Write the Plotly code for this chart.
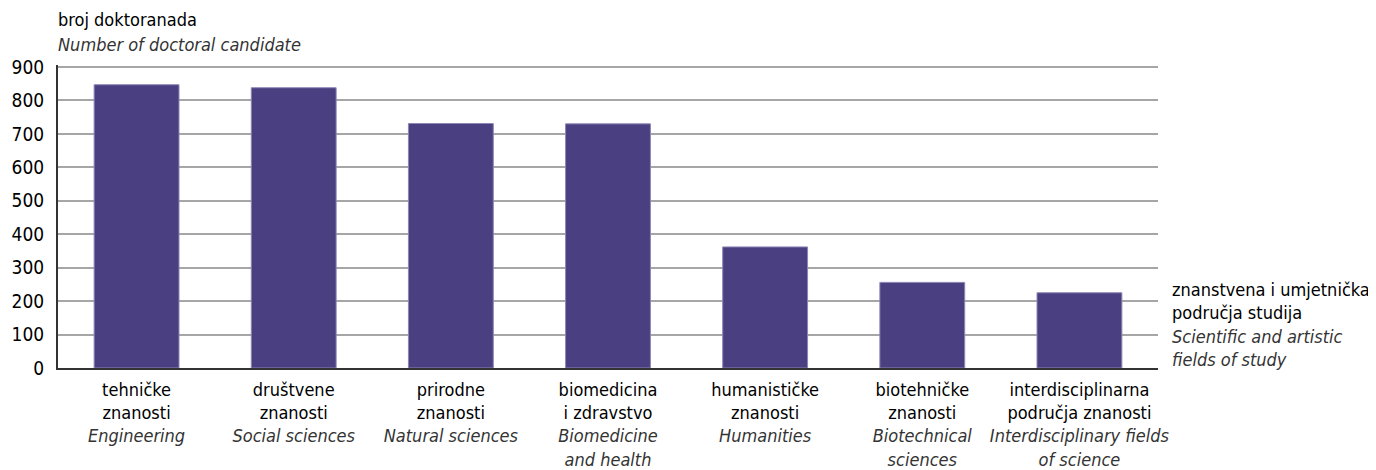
import plotly.graph_objects as go

categories_hr = ["tehničke<br>znanosti", "društvene<br>znanosti", "prirodne<br>znanosti",
                 "biomedicina<br>i zdravstvo", "humanističke<br>znanosti", "biotehničke<br>znanosti",
                 "interdisciplinarna<br>područja znanosti"]
categories_en = ["Engineering", "Social sciences", "Natural sciences",
                 "Biomedicine<br>and health", "Humanities", "Biotechnical<br>sciences",
                 "Interdisciplinary fields<br>of science"]
values = [847, 838, 731, 730, 362, 256, 225]
y_ticks = [0, 100, 200, 300, 400, 500, 600, 700, 800, 900]

FONT = "DejaVu Sans Condensed, Liberation Sans Narrow, sans-serif"
BAR = "#4a3f80"

x_idx = list(range(len(values)))
ticktext = [f"{hr}<br><i><span style='color:#333'>{en}</span></i>" for hr, en in zip(categories_hr, categories_en)]

fig = go.Figure(go.Bar(
    x=x_idx, y=values, width=0.54,
    marker=dict(color=BAR, line=dict(color="#8d86b5", width=1)),
    hoverinfo="y",
))

# page body has an 8px margin; margins compensate so the plot area sits at x 58-1158, y 65-368
fig.update_layout(
    width=1376, height=470,
    margin=dict(l=50, r=226, t=57, b=110, autoexpand=False),
    paper_bgcolor="white", plot_bgcolor="white",
    font=dict(family=FONT, size=18, color="#000"),
    showlegend=False,
)
fig.update_xaxes(
    tickmode="array", tickvals=x_idx, ticktext=ticktext,
    range=[-0.5, len(values) - 0.5], automargin=False,
    showline=True, linecolor="#333", linewidth=2,
    showgrid=False, ticks="", ticklabelstandoff=4,
    tickfont=dict(family=FONT, size=18, color="#000"),
)
fig.update_yaxes(
    range=[0, 906], tickvals=y_ticks, automargin=False,
    showline=True, linecolor="#333", linewidth=2,
    showgrid=True, gridcolor="#a6a6a6", gridwidth=1.5,
    zeroline=False, ticks="", ticklabelstandoff=8,
    tickfont=dict(family=FONT, size=19, color="#000"),
)

fig.add_annotation(xref="paper", yref="paper", x=0, y=1, xanchor="left", yanchor="bottom",
                   xshift=-2, yshift=33, text="broj doktoranada", showarrow=False,
                   font=dict(family=FONT, size=18, color="#000"))
fig.add_annotation(xref="paper", yref="paper", x=0, y=1, xanchor="left", yanchor="bottom",
                   xshift=-2, yshift=8, text="<i>Number of doctoral candidate</i>", showarrow=False,
                   font=dict(family=FONT, size=18, color="#333"))
fig.add_annotation(xref="paper", yref="paper", x=1, y=0, xanchor="left", yanchor="bottom",
                   xshift=12, yshift=-4, align="left",
                   text="znanstvena i umjetnička<br>područja studija<br><i><span style='color:#333'>Scientific and artistic<br>fields of study</span></i>",
                   showarrow=False, font=dict(family=FONT, size=18, color="#000"))

fig.write_html("out.html")
